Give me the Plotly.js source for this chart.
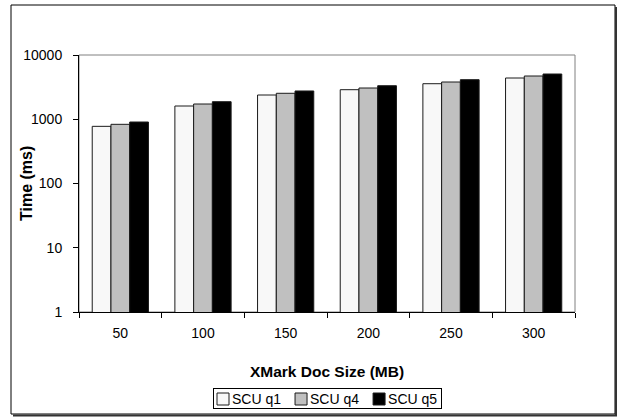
<!DOCTYPE html>
<html>
<head>
<meta charset="utf-8">
<script src="https://cdn.plot.ly/plotly-3.0.1.min.js"></script>
<style>html,body{margin:0;padding:0;background:#fff;}#chart{width:619px;height:418px;}</style>
</head>
<body>
<div id="chart"></div>
<script>
var categories = ["50", "100", "150", "200", "250", "300"];
var seriesNames = ["SCU q1", "SCU q4", "SCU q5"];
var q1 = [776, 1608, 2384, 2884, 3574, 4385];
var q4 = [834, 1727, 2535, 3064, 3800, 4711];
var q5 = [906, 1876, 2754, 3327, 4130, 5060];
var yTickVals = [1, 10, 100, 1000, 10000];
var yTickText = ["1", "10", "100", "1000", "10000"];
var xTitle = "XMark Doc Size (MB)";
var yTitle = "Time (ms)";

var fills = ["#f8f8f8", "#c0c0c0", "#000000"];
var seriesValues = [q1, q4, q5];

var traces = seriesValues.map(function (vals, i) {
  return {
    type: "bar",
    name: seriesNames[i],
    x: categories,
    y: vals,
    marker: { color: fills[i], line: { color: "#1a1a1a", width: 1 } },
    hoverinfo: "skip"
  };
});

var L = 79, R = 575, T = 55, B = 312, W = 619, H = 418;
var pw = R - L, ph = B - T;
function px(x) { return (x - L) / pw; }
function py(y) { return (B - y) / ph; }

var fam = "Liberation Sans, Arial, sans-serif";
var font = { family: fam, size: 14, color: "#000" };

var layout = {
  width: W, height: H,
  margin: { l: L, r: W - R, t: T, b: H - B, pad: 0, autoexpand: false },
  paper_bgcolor: "#fff",
  plot_bgcolor: "rgba(0,0,0,0)",
  font: font,
  barmode: "group",
  bargap: 0.32,
  bargroupgap: 0,
  showlegend: true,
  legend: {
    orientation: "h",
    x: px(213), xanchor: "left",
    y: py(388), yanchor: "top",
    bordercolor: "#000", borderwidth: 1,
    font: font,
    itemwidth: 30,
    traceorder: "normal"
  },
  xaxis: {
    type: "category",
    showline: true, linecolor: "#000", linewidth: 1,
    ticks: "outside", ticklen: 5, tickcolor: "#000", tickson: "boundaries",
    ticklabelstandoff: 8,
    showgrid: false, zeroline: false,
    tickfont: font,
    title: { text: "<b>" + xTitle + "</b>", font: { family: fam, size: 15.5, color: "#000" }, standoff: 26 },
    automargin: false,
    fixedrange: true
  },
  yaxis: {
    type: "log",
    range: [0, 4],
    tickvals: yTickVals, ticktext: yTickText,
    showline: true, linecolor: "#000", linewidth: 1,
    ticks: "outside", ticklen: 5, tickcolor: "#000",
    ticklabelstandoff: 8,
    showgrid: false, zeroline: false,
    tickfont: font,
    automargin: false,
    fixedrange: true
  },
  annotations: [
    { text: "<b>" + yTitle + "</b>", xref: "paper", yref: "paper", x: px(26), y: py(184),
      xanchor: "center", yanchor: "middle", textangle: -90, showarrow: false,
      font: { family: fam, size: 16, color: "#000" } }
  ],
  shapes: [
    { type: "rect", xref: "paper", yref: "paper", x0: 0, x1: 1, y0: 0, y1: 1,
      line: { color: "#808080", width: 1 }, fillcolor: "rgba(0,0,0,0)", layer: "below" },
    { type: "rect", xref: "paper", yref: "paper", x0: px(11), x1: px(615), y0: py(5), y1: py(414),
      line: { color: "#000", width: 1 }, fillcolor: "rgba(0,0,0,0)", layer: "below" },
    { type: "line", xref: "paper", yref: "paper", x0: px(616), x1: px(616), y0: py(7), y1: py(416),
      line: { color: "#333", width: 2 }, layer: "below" },
    { type: "line", xref: "paper", yref: "paper", x0: px(13), x1: px(617), y0: py(415.5), y1: py(415.5),
      line: { color: "#333", width: 2 }, layer: "below" }
  ]
};

function tightenLegend(gd) {
  var groups = gd.querySelectorAll(".legend .traces");
  if (!groups.length) return;
  var boxH = 20, x = -10, lastEnd = 0;
  for (var i = 0; i < groups.length; i++) {
    var g = groups[i];
    var t = g.querySelector(".legendtext");
    var tw = t ? t.getComputedTextLength() : 45;
    if (t) t.setAttribute("x", 29);
    g.setAttribute("transform", "translate(" + x + "," + (boxH / 2 + 1) + ")");
    lastEnd = x + 29 + tw;
    x = lastEnd + 11 - 14 + 3;
  }
  var bg = gd.querySelector(".legend .bg");
  if (bg) {
    bg.setAttribute("width", Math.round(lastEnd + 4));
    bg.setAttribute("height", boxH);
  }
}

Plotly.newPlot("chart", traces, layout, { staticPlot: true, displayModeBar: false })
  .then(function (gd) { tightenLegend(gd); });
</script>
</body>
</html>
